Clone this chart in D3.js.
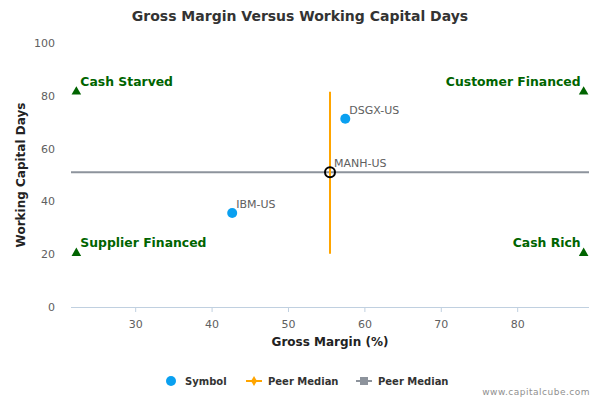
<!DOCTYPE html>
<html>
<head>
<meta charset="utf-8">
<script src="https://cdn.jsdelivr.net/npm/d3@7"></script>
<style>
  body { margin: 0; background: #fff; }
  svg { font-family: "DejaVu Sans", sans-serif; }
</style>
</head>
<body>
<svg id="chart" width="600" height="400"></svg>
<script>
// data
var symbols = ['IBM-US', 'DSGX-US', 'MANH-US'];
var grossMargin = [42.7, 57.5, 55.5];
var wcDays = [35.6, 71.3, 51.0];

var peerMedianX = 55.5;       // vertical orange line
var peerMedianY = 51.0;       // horizontal grey line
var vLineRange = [20.2, 81.5];

var quadrantNames = ['Cash Starved', 'Customer Financed', 'Supplier Financed', 'Cash Rich'];
var quadrantX = [22.3, 88.7, 22.3, 88.7];
var quadrantY = [81.5, 81.5, 20.4, 20.4];

var xTicks = [30, 40, 50, 60, 70, 80];
var yTicks = [0, 20, 40, 60, 80, 100];

var plotL = 71, plotR = 589, plotT = 43, plotB = 307;

var svg = d3.select('#chart');

var x = d3.scaleLinear().domain([21.6, 89.4]).range([plotL, plotR]);
var y = d3.scaleLinear().domain([0, 100]).range([plotB, plotT]);

// title
svg.append('text')
    .attr('x', 300)
    .attr('y', 21)
    .attr('text-anchor', 'middle')
    .attr('fill', '#333')
    .style('font-size', '14px')
    .style('font-weight', 'bold')
    .text('Gross Margin Versus Working Capital Days');

// x axis
var xAxis = svg.append('g')
    .attr('transform', 'translate(0,' + plotB + ')')
    .call(d3.axisBottom(x).tickValues(xTicks).tickSize(5).tickPadding(8));
xAxis.select('.domain').attr('stroke', '#C0D0E0').attr('d', 'M' + plotL + ',0.5H' + plotR);
xAxis.selectAll('.tick line').attr('stroke', '#C0D0E0');
xAxis.selectAll('.tick text')
    .attr('fill', '#606060')
    .style('font-size', '11px')
    .style('font-family', '"DejaVu Sans", sans-serif');

// y axis
var yAxis = svg.append('g')
    .attr('transform', 'translate(' + plotL + ',0)')
    .call(d3.axisLeft(y).tickValues(yTicks).tickSize(0).tickPadding(16));
yAxis.select('.domain').remove();
yAxis.selectAll('.tick text')
    .attr('fill', '#606060')
    .style('font-size', '11px')
    .style('font-family', '"DejaVu Sans", sans-serif');

// axis titles
svg.append('text')
    .attr('x', (plotL + plotR) / 2)
    .attr('y', 346)
    .attr('text-anchor', 'middle')
    .attr('fill', '#222')
    .style('font-size', '12px')
    .style('font-weight', 'bold')
    .text('Gross Margin (%)');

svg.append('text')
    .attr('transform', 'translate(25,' + (plotT + plotB) / 2 + ') rotate(-90)')
    .attr('text-anchor', 'middle')
    .attr('fill', '#222')
    .style('font-size', '12px')
    .style('font-weight', 'bold')
    .text('Working Capital Days');

// peer median lines
svg.append('line')
    .attr('x1', x(21.6)).attr('x2', x(89.4))
    .attr('y1', y(peerMedianY)).attr('y2', y(peerMedianY))
    .attr('stroke', '#8d939c')
    .attr('stroke-width', 2);

svg.append('line')
    .attr('x1', x(peerMedianX)).attr('x2', x(peerMedianX))
    .attr('y1', y(vLineRange[0])).attr('y2', y(vLineRange[1]))
    .attr('stroke', '#FFA500')
    .attr('stroke-width', 2);

// quadrant markers + labels
var tri = d3.symbol().type(d3.symbolTriangle).size(40);
quadrantNames.forEach(function (name, i) {
    var px = x(quadrantX[i]), py = y(quadrantY[i]);
    svg.append('path')
        .attr('d', tri())
        .attr('transform', 'translate(' + px + ',' + py + ')')
        .attr('fill', '#006400');
    var onRight = i % 2 == 1;
    svg.append('text')
        .attr('x', onRight ? px - 3 : px + 4)
        .attr('y', py - 6)
        .attr('text-anchor', onRight ? 'end' : 'start')
        .attr('fill', '#006400')
        .style('font-size', '12.4px')
        .style('font-weight', 'bold')
        .text(name);
});

// points
symbols.forEach(function (s, i) {
    var px = x(grossMargin[i]), py = y(wcDays[i]);
    if (s == 'MANH-US') {
        svg.append('circle')
            .attr('cx', px).attr('cy', py).attr('r', 5)
            .attr('fill', 'none')
            .attr('stroke', '#000')
            .attr('stroke-width', 2);
    } else {
        svg.append('circle')
            .attr('cx', px).attr('cy', py).attr('r', 5)
            .attr('fill', '#0aa0f0');
    }
    svg.append('text')
        .attr('x', px + 4)
        .attr('y', py - 5)
        .attr('fill', '#606060')
        .style('font-size', '11px')
        .text(s);
});

// legend
var lg = svg.append('g').attr('transform', 'translate(0,381)');
lg.append('circle').attr('cx', 171).attr('cy', 0).attr('r', 5).attr('fill', '#0aa0f0');
lg.append('text').attr('x', 185).attr('y', 4).text('Symbol');

lg.append('line').attr('x1', 246).attr('x2', 262).attr('y1', 0).attr('y2', 0)
    .attr('stroke', '#FFA500').attr('stroke-width', 2);
lg.append('path').attr('d', d3.symbol().type(d3.symbolDiamond).size(30)())
    .attr('transform', 'translate(254,0)').attr('fill', '#FFA500');
lg.append('text').attr('x', 268).attr('y', 4).text('Peer Median');

lg.append('line').attr('x1', 356).attr('x2', 372).attr('y1', 0).attr('y2', 0)
    .attr('stroke', '#8d939c').attr('stroke-width', 2);
lg.append('rect').attr('x', 360).attr('y', -4).attr('width', 8).attr('height', 8).attr('fill', '#8d939c');
lg.append('text').attr('x', 378).attr('y', 4).text('Peer Median');

lg.selectAll('text')
    .attr('fill', '#333')
    .style('font-size', '10px')
    .style('font-weight', 'bold');

// credit
svg.append('text')
    .attr('x', 590)
    .attr('y', 395)
    .attr('text-anchor', 'end')
    .attr('fill', '#909090')
    .style('font-size', '9px')
    .style('letter-spacing', '0.5px')
    .text('www.capitalcube.com');
</script>
</body>
</html>
